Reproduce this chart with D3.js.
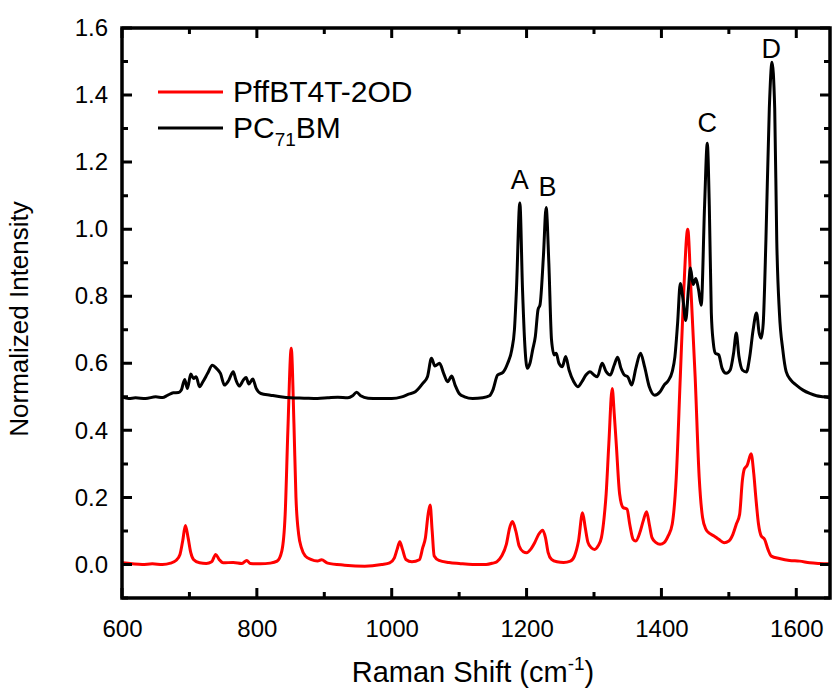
<!DOCTYPE html>
<html>
<head>
<meta charset="utf-8">
<script src="https://cdn.jsdelivr.net/npm/d3@7"></script>
<style>
  body { margin: 0; background: #fff; overflow: hidden; }
  svg { display: block; }
  text { font-family: Arial, "Liberation Sans", sans-serif; fill: #000; }
</style>
</head>
<body>
<div id="chart"></div>
<script>
// Raman spectra: [shift in cm-1, normalized intensity]
const polymerSpectrum = [
  [600,0.005],[615,0.002],[630,0.0],[645,0.002],[660,0.0],[672,0.004],[680,0.012],[686,0.03],[690,0.07],[694,0.116],
  [698,0.08],[702,0.035],[706,0.015],[715,0.005],[725,0.003],[733,0.008],[739,0.03],[744,0.015],[750,0.005],[765,0.006],
  [778,0.003],[785,0.012],[790,0.003],[805,0.002],[820,0.004],[830,0.01],[837,0.04],[842,0.15],[846,0.4],[851,0.645],
  [855,0.42],[858,0.2],[862,0.09],[866,0.05],[872,0.025],[880,0.015],[890,0.01],[896,0.014],[905,0.004],[930,-0.002],
  [960,-0.005],[985,0.0],[997,0.005],[1004,0.02],[1008,0.045],[1012,0.068],[1016,0.045],[1021,0.015],[1030,0.008],[1041,0.014],
  [1046,0.05],[1050,0.08],[1054,0.15],[1057,0.177],[1060,0.1],[1063,0.025],[1070,0.012],[1085,0.006],[1100,0.003],[1120,0.0],
  [1140,0.0],[1150,0.004],[1156,0.008],[1163,0.025],[1170,0.06],[1175,0.11],[1179,0.128],[1184,0.1],[1189,0.055],[1195,0.038],
  [1200,0.035],[1206,0.045],[1212,0.065],[1218,0.09],[1224,0.102],[1228,0.08],[1232,0.035],[1237,0.015],[1245,0.008],[1255,0.006],
  [1265,0.01],[1271,0.025],[1277,0.07],[1283,0.154],[1287,0.11],[1291,0.066],[1296,0.05],[1301,0.045],[1306,0.055],[1311,0.08],
  [1315,0.14],[1318,0.21],[1322,0.36],[1327,0.525],[1330,0.45],[1333,0.36],[1338,0.21],[1343,0.17],[1349,0.165],[1353,0.12],
  [1358,0.075],[1362,0.07],[1368,0.095],[1373,0.13],[1378,0.157],[1382,0.12],[1386,0.08],[1392,0.065],[1398,0.06],[1404,0.065],
  [1410,0.085],[1416,0.12],[1422,0.26],[1428,0.56],[1433,0.81],[1439,1.0],[1444,0.81],[1450,0.56],[1456,0.26],[1461,0.14],
  [1466,0.105],[1472,0.092],[1478,0.085],[1485,0.075],[1493,0.065],[1500,0.07],[1506,0.09],[1511,0.12],[1516,0.15],[1520,0.25],
  [1523,0.285],[1527,0.295],[1533,0.33],[1537,0.27],[1540,0.2],[1544,0.12],[1548,0.085],[1553,0.075],[1558,0.045],[1563,0.025],
  [1575,0.018],[1590,0.012],[1605,0.01],[1620,0.005],[1635,0.003],[1650,0.002]
];

const fullereneSpectrum = [
  [600,0.5],[610,0.495],[620,0.497],[635,0.495],[650,0.5],[660,0.498],[668,0.505],[676,0.512],[684,0.513],[688,0.52],
  [693,0.552],[697,0.525],[702,0.568],[706,0.555],[710,0.56],[715,0.53],[720,0.545],[727,0.57],[734,0.594],[740,0.585],
  [746,0.57],[752,0.535],[758,0.548],[765,0.575],[769,0.55],[774,0.532],[780,0.55],[784,0.558],[788,0.538],[794,0.553],
  [799,0.525],[806,0.51],[820,0.505],[835,0.5],[850,0.497],[870,0.496],[890,0.495],[905,0.497],[920,0.499],[935,0.497],
  [942,0.503],[948,0.514],[954,0.503],[965,0.496],[980,0.495],[1000,0.495],[1015,0.5],[1025,0.508],[1035,0.515],[1046,0.54],
  [1053,0.56],[1059,0.615],[1064,0.592],[1071,0.6],[1077,0.57],[1083,0.545],[1089,0.562],[1094,0.535],[1100,0.51],[1108,0.5],
  [1120,0.495],[1135,0.497],[1145,0.503],[1150,0.52],[1157,0.565],[1165,0.573],[1172,0.6],[1178,0.64],[1182,0.7],[1185,0.82],
  [1190,1.078],[1194,0.82],[1197,0.67],[1201,0.585],[1205,0.6],[1209,0.64],[1213,0.68],[1217,0.76],[1220,0.775],[1225,0.92],
  [1229,1.065],[1233,0.9],[1237,0.67],[1241,0.625],[1244,0.63],[1248,0.6],[1253,0.59],[1258,0.62],[1263,0.58],[1270,0.545],
  [1276,0.53],[1282,0.545],[1288,0.565],[1294,0.575],[1300,0.565],[1305,0.56],[1312,0.6],[1318,0.575],[1324,0.565],[1330,0.595],
  [1335,0.618],[1340,0.585],[1345,0.565],[1350,0.56],[1356,0.535],[1362,0.585],[1369,0.63],[1375,0.59],[1382,0.53],[1390,0.505],
  [1398,0.515],[1404,0.535],[1410,0.548],[1416,0.575],[1420,0.62],[1424,0.72],[1428,0.838],[1432,0.79],[1436,0.728],[1440,0.82],
  [1443,0.884],[1447,0.835],[1451,0.853],[1455,0.82],[1459,0.773],[1464,1.07],[1468,1.256],[1471,1.07],[1474,0.75],[1477,0.66],
  [1480,0.63],[1485,0.625],[1490,0.585],[1496,0.57],[1502,0.58],[1507,0.63],[1511,0.69],[1515,0.62],[1520,0.58],[1526,0.574],
  [1531,0.62],[1536,0.7],[1541,0.75],[1545,0.69],[1548,0.675],[1551,0.72],[1555,0.97],[1560,1.36],[1564,1.498],[1568,1.36],
  [1571,0.97],[1575,0.75],[1580,0.64],[1585,0.575],[1592,0.55],[1600,0.535],[1610,0.52],[1620,0.51],[1630,0.503],[1640,0.5],
  [1650,0.497]
];

// Peak labels [label, shift, intensity of the text baseline]
const peakLabels = [["A", 1190, 1.12], ["B", 1231, 1.1], ["C", 1468, 1.29], ["D", 1563, 1.51]];

const xTicks = [600, 800, 1000, 1200, 1400, 1600];
const xMinorTicks = [700, 900, 1100, 1300, 1500];
const yTicks = [0, 0.2, 0.4, 0.6, 0.8, 1.0, 1.2, 1.4, 1.6];
const yMinorTicks = [-0.1, 0.1, 0.3, 0.5, 0.7, 0.9, 1.1, 1.3, 1.5];

const width = 835, height = 695;
const margin = {top: 28, right: 5, bottom: 97, left: 122};
const plotW = width - margin.left - margin.right;
const plotH = height - margin.top - margin.bottom;

const root = d3.select("#chart")
    .append("svg")
    .attr("width", width)
    .attr("height", height);
const svg = root.append("g")
    .attr("transform", `translate(${margin.left}, ${margin.top})`);

const x = d3.scaleLinear().domain([600, 1650]).range([margin.left, margin.left + plotW]);
const y = d3.scaleLinear().domain([-0.1, 1.6]).range([margin.top + plotH, margin.top]);

// the plot group is translated, so draw the spectra in root coordinates
const line = d3.line()
    .x(d => x(d[0]))
    .y(d => y(d[1]))
    .curve(d3.curveMonotoneX);

root.append("path").datum(polymerSpectrum)
    .attr("d", line).attr("fill", "none")
    .attr("stroke", "#ff0000").attr("stroke-width", 3).attr("stroke-linejoin", "round");
root.append("path").datum(fullereneSpectrum)
    .attr("d", line).attr("fill", "none")
    .attr("stroke", "#000").attr("stroke-width", 3).attr("stroke-linejoin", "round");

// tick labels
root.append("g").attr("transform", `translate(0, ${margin.top + plotH})`)
    .call(d3.axisBottom(x).tickValues(xTicks).tickSize(0).tickPadding(22).tickFormat(d3.format("d")))
    .call(g => g.select(".domain").remove())
    .call(g => g.selectAll(".tick text").style("font-size", "24px"));
root.append("g").attr("transform", `translate(${margin.left}, 0)`)
    .call(d3.axisLeft(y).tickValues(yTicks).tickSize(0).tickPadding(14).tickFormat(d3.format(".1f")))
    .call(g => g.select(".domain").remove())
    .call(g => g.selectAll(".tick text").style("font-size", "24px"));

// frame
root.append("rect")
    .attr("x", margin.left).attr("y", margin.top)
    .attr("width", plotW).attr("height", plotH)
    .attr("fill", "none").attr("stroke", "#000").attr("stroke-width", 3.5);

// inward ticks on all four sides
const x0 = margin.left, x1 = margin.left + plotW;
const y0 = margin.top, y1 = margin.top + plotH;
const tickSpecs = [
    ...xTicks.map(v => ({v, len: 10, axis: "x"})),
    ...xMinorTicks.map(v => ({v, len: 6, axis: "x"})),
    ...yTicks.map(v => ({v, len: 10, axis: "y"})),
    ...yMinorTicks.map(v => ({v, len: 6, axis: "y"}))
];
root.selectAll("path.frametick")
    .data(tickSpecs)
    .enter()
    .append("path")
    .attr("class", "frametick")
    .attr("d", d => d.axis === "x"
        ? `M${x(d.v)},${y1}V${y1 - d.len}M${x(d.v)},${y0}V${y0 + d.len}`
        : `M${x0},${y(d.v)}H${x0 + d.len}M${x1},${y(d.v)}H${x1 - d.len}`)
    .attr("fill", "none")
    .attr("stroke", "#000")
    .attr("stroke-width", 3);

// peak labels
root.selectAll("text.peak")
    .data(peakLabels)
    .enter()
    .append("text")
    .attr("class", "peak")
    .attr("x", d => x(d[1]))
    .attr("y", d => y(d[2]))
    .attr("text-anchor", "middle")
    .style("font-size", "27px")
    .text(d => d[0]);

// legend
const legend = svg.append("g").attr("transform", "translate(36, 64)");
legend.append("line").attr("x1", 0).attr("x2", 65).attr("y1", 0).attr("y2", 0)
    .attr("stroke", "#ff0000").attr("stroke-width", 3);
legend.append("text").attr("x", 75).attr("y", 10).style("font-size", "30px").text("PffBT4T-2OD");
legend.append("line").attr("x1", 0).attr("x2", 65).attr("y1", 36).attr("y2", 36)
    .attr("stroke", "#000").attr("stroke-width", 3);
const pcLabel = legend.append("text").attr("x", 75).attr("y", 46).style("font-size", "30px");
pcLabel.append("tspan").text("PC");
pcLabel.append("tspan").attr("dy", 8).style("font-size", "19px").text("71");
pcLabel.append("tspan").attr("dy", -8).text("BM");

// axis titles
svg.append("text")
    .attr("transform", `translate(${-94}, ${plotH / 2 + 6}) rotate(-90)`)
    .attr("text-anchor", "middle")
    .style("font-size", "26px")
    .text("Normalized Intensity");

const xTitle = svg.append("text")
    .attr("x", plotW / 2 - 3)
    .attr("y", plotH + 84)
    .attr("text-anchor", "middle")
    .style("font-size", "29px");
xTitle.append("tspan").text("Raman Shift (cm");
xTitle.append("tspan").attr("dy", -12).style("font-size", "19px").text("-1");
xTitle.append("tspan").attr("dy", 12).text(")");
</script>
</body>
</html>
